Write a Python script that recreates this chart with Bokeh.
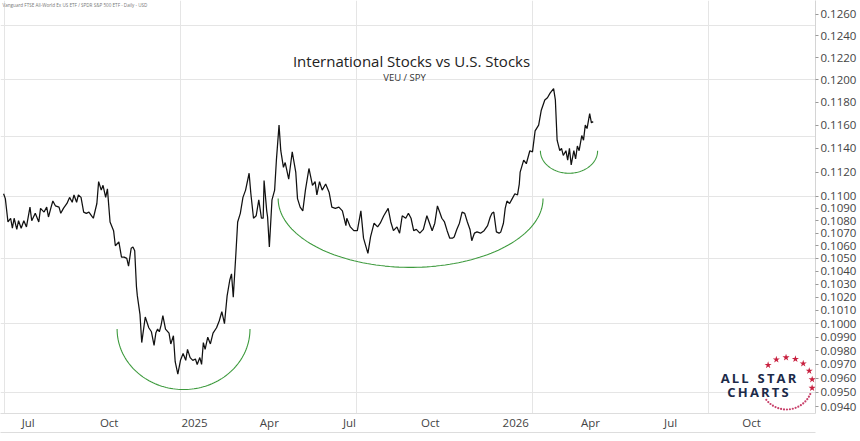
import numpy as np
import pandas as pd
from bokeh.plotting import figure
from bokeh.models import Range1d, LinearAxis, LogAxis, FixedTicker, PrintfTickFormatter, Label
from bokeh.embed import file_html
from bokeh.resources import INLINE

# ---------------- data ----------------
base_date = pd.Timestamp("2025-01-01")

# trading observations, days since 2025-01-01
days = [
    -201, -199, -196, -193, -191, -189, -186, -184, -181, -178,
    -175, -171, -169, -165, -161, -159, -155, -152, -150, -147,
    -145, -142, -138, -136, -133, -129, -126, -123, -121, -118,
    -116, -113, -110, -107, -104, -101, -99, -95, -93, -90,
    -88, -85, -83, -80, -76, -74, -70, -67, -64, -61,
    -59, -56, -54, -52, -50, -49, -46, -44, -40, -36,
    -33, -30, -28, -26, -24, -22, -20, -17, -13, -11,
    -8, -6, -3, 0, 3, 6, 8, 11, 14, 17,
    19, 22, 24, 26, 28, 31, 34, 37, 41, 44,
    47, 50, 53, 56, 58, 60, 63, 65, 68, 71,
    74, 78, 80, 83, 86, 89, 92, 94, 95, 98,
    99, 101, 104, 107, 109, 112, 114, 117, 119, 123,
    127, 131, 133, 136, 139, 142, 146, 150, 153, 155,
    158, 161, 165, 169, 172, 176, 180, 184, 188, 189,
    193, 197, 201, 205, 208, 213, 216, 220, 224, 227,
    231, 236, 239, 242, 246, 249, 252, 256, 259, 262,
    265, 268, 272, 276, 280, 283, 286, 289, 292, 295,
    297, 300, 303, 306, 309, 311, 314, 317, 320, 323,
    326, 329, 331, 334, 337, 341, 345, 349, 352, 354,
    356, 359, 362, 364, 367, 369, 371, 374, 377, 380,
    383, 385, 386, 390, 393, 397, 400, 403, 407, 410,
    414, 417, 420, 424, 426, 428, 431, 433, 435, 438,
    440, 442, 444, 447, 449, 451, 453, 456, 458, 460,
    462, 465, 467, 469,
]

# VEU / SPY ratio
ratio = [
    0.1102, 0.1098, 0.1079, 0.1082, 0.1074, 0.1082, 0.1073, 0.1080, 0.1074, 0.1080,
    0.1075, 0.1091, 0.1080, 0.1086, 0.1079, 0.1090, 0.1087, 0.1091, 0.1083, 0.1091,
    0.1096, 0.1092, 0.1091, 0.1086, 0.1090, 0.1094, 0.1099, 0.1095, 0.1101, 0.1095,
    0.1101, 0.1099, 0.1087, 0.1086, 0.1087, 0.1084, 0.1082, 0.1094, 0.1112, 0.1105,
    0.1109, 0.1099, 0.1106, 0.1079, 0.1072, 0.1060, 0.1063, 0.1051, 0.1051, 0.1050,
    0.1044, 0.1058, 0.1059, 0.1056, 0.1028, 0.1021, 0.1007, 0.0986, 0.1005, 0.0997,
    0.0994, 0.0984, 0.0993, 0.0996, 0.0994, 0.0999, 0.1006, 0.0996, 0.0993, 0.0985,
    0.0991, 0.0972, 0.0963, 0.0973, 0.0978, 0.0973, 0.0981, 0.0975, 0.0973, 0.0974,
    0.0970, 0.0975, 0.0970, 0.0986, 0.0981, 0.0990, 0.0985, 0.0993, 0.0997, 0.1002,
    0.1009, 0.1000, 0.1021, 0.1033, 0.1038, 0.1020, 0.1054, 0.1079, 0.1086, 0.1099,
    0.1105, 0.1119, 0.1102, 0.1082, 0.1084, 0.1097, 0.1082, 0.1082, 0.1113, 0.1088,
    0.1083, 0.1059, 0.1097, 0.1105, 0.1130, 0.1160, 0.1138, 0.1124, 0.1128, 0.1114,
    0.1137, 0.1120, 0.1098, 0.1091, 0.1088, 0.1105, 0.1123, 0.1109, 0.1112, 0.1101,
    0.1112, 0.1105, 0.1110, 0.1103, 0.1091, 0.1090, 0.1091, 0.1088, 0.1076, 0.1082,
    0.1075, 0.1072, 0.1072, 0.1088, 0.1066, 0.1054, 0.1067, 0.1078, 0.1075, 0.1078,
    0.1084, 0.1090, 0.1079, 0.1072, 0.1075, 0.1070, 0.1084, 0.1082, 0.1086, 0.1082,
    0.1072, 0.1073, 0.1070, 0.1073, 0.1084, 0.1078, 0.1072, 0.1078, 0.1092, 0.1086,
    0.1082, 0.1079, 0.1072, 0.1066, 0.1066, 0.1067, 0.1073, 0.1078, 0.1087, 0.1086,
    0.1079, 0.1073, 0.1064, 0.1070, 0.1071, 0.1070, 0.1072, 0.1076, 0.1083, 0.1086,
    0.1087, 0.1071, 0.1070, 0.1071, 0.1078, 0.1090, 0.1096, 0.1094, 0.1098, 0.1102,
    0.1101, 0.1110, 0.1120, 0.1130, 0.1127, 0.1138, 0.1137, 0.1155, 0.1160, 0.1173,
    0.1182, 0.1184, 0.1188, 0.1192, 0.1182, 0.1147, 0.1138, 0.1140, 0.1134, 0.1138,
    0.1130, 0.1140, 0.1126, 0.1138, 0.1131, 0.1142, 0.1138, 0.1151, 0.1147, 0.1160,
    0.1157, 0.1170, 0.1162, 0.1163,
]

y_ticks = [0.094, 0.095, 0.096, 0.097, 0.098, 0.099, 0.100, 0.101, 0.102, 0.103,
           0.104, 0.105, 0.106, 0.107, 0.108, 0.109, 0.110, 0.112, 0.114, 0.116,
           0.118, 0.120, 0.122, 0.124, 0.126]

x_tick_months = ["2024-07-01", "2024-10-01", "2025-01-01", "2025-04-01", "2025-07-01",
                 "2025-10-01", "2026-01-01", "2026-04-01", "2026-07-01", "2026-10-01"]
x_tick_labels = ["Jul", "Oct", "2025", "Apr", "Jul", "Oct", "2026", "Apr", "Jul", "Oct"]

# annotation arcs (green "bowls")
arc_start = ["2024-10-21", "2025-04-22", "2026-02-14"]
arc_end = ["2025-03-21", "2026-02-17", "2026-04-20"]
arc_rim = [0.0996, 0.1098, 0.1138]
arc_bottom = [0.0952, 0.1043, 0.1119]

title_text = "International Stocks vs U.S. Stocks"
subtitle_text = "VEU / SPY"
header_text = "Vanguard FTSE All-World Ex US ETF / SPDR S&P 500 ETF - Daily - USD"
date_text = "10th Apr 2026"

# ---------------- layout ----------------
FRAME_W, FRAME_H = 815, 413
X0, X1 = -204.5, 721.6
Y0, Y1 = 0.09351, 0.12732


def px_x(px):
    return X0 + px * (X1 - X0) / FRAME_W


def px_y(py):
    return 10 ** (np.log10(Y1) - py / FRAME_H * (np.log10(Y1) - np.log10(Y0)))


p = figure(width=860, height=441, output_backend="svg", toolbar_location=None,
           x_range=Range1d(X0, X1), y_range=Range1d(Y0, Y1), y_axis_type="log",
           x_axis_location=None, y_axis_location=None,
           min_border_left=0, min_border_right=45, min_border_top=0, min_border_bottom=28)
p.outline_line_color = None
p.background_fill_color = "white"
p.border_fill_color = "white"

FONT = "Open Sans"

yaxis = LogAxis(ticker=FixedTicker(ticks=y_ticks), formatter=PrintfTickFormatter(format="%.4f"),
                axis_line_color="#d4d4d4", major_tick_line_color="#999999",
                major_tick_out=3, major_tick_in=0, minor_tick_line_color=None,
                major_label_text_font=FONT, major_label_text_font_size="11.5px",
                major_label_text_color="#444444", major_label_standoff=2)
p.add_layout(yaxis, "right")

tick_pos = []
for m, lab in zip(x_tick_months, x_tick_labels):
    off = 16 if lab.isdigit() else 11
    tick_pos.append(float((pd.Timestamp(m) - base_date).days + off))
overrides = {t: lab for t, lab in zip(tick_pos, x_tick_labels)}

xaxis = LinearAxis(ticker=FixedTicker(ticks=tick_pos), major_label_overrides=overrides,
                   axis_line_color="#dddddd", major_tick_line_color=None, minor_tick_line_color=None,
                   major_tick_out=0, major_tick_in=0,
                   major_label_text_font=FONT, major_label_text_font_size="11.5px",
                   major_label_text_color="#444444", major_label_standoff=1)
p.add_layout(xaxis, "below")
xaxis2 = LinearAxis(ticker=FixedTicker(ticks=[]), axis_line_color="#dddddd",
                    major_tick_line_color=None, minor_tick_line_color=None,
                    major_tick_out=0, major_tick_in=0,
                    major_label_text_font_size="0px")
p.add_layout(xaxis2, "below")

# main series
p.line(x=days, y=ratio, line_color="#111111", line_width=1.25)

# arcs
t = np.linspace(0, np.pi, 90)
for s, e, rim, bot in zip(arc_start, arc_end, arc_rim, arc_bottom):
    d0 = (pd.Timestamp(s) - base_date).days
    d1 = (pd.Timestamp(e) - base_date).days
    cx, a = (d0 + d1) / 2, (d1 - d0) / 2
    b = np.log10(rim) - np.log10(bot)
    xs = cx - a * np.cos(t)
    ys = 10 ** (np.log10(rim) - b * np.sin(t))
    p.line(x=xs, y=ys, line_color="#3d9a3d", line_width=1.1)

# texts
p.add_layout(Label(x=px_x(411), y=px_y(60), text=title_text, text_font=FONT,
                   text_font_size="15px", text_color="#222222", text_align="center",
                   text_baseline="middle"))
p.add_layout(Label(x=px_x(404), y=px_y(77), text=subtitle_text, text_font=FONT,
                   text_font_size="9.5px", text_color="#333333", text_align="center",
                   text_baseline="middle"))
p.add_layout(Label(x=px_x(2), y=px_y(4.5), text=header_text, text_font=FONT,
                   text_font_size="4.6px", text_color="#777777", text_align="left",
                   text_baseline="middle"))
p.add_layout(Label(x=px_x(428), y=px_y(434), text=date_text, text_font=FONT,
                   text_font_size="4.5px", text_color="#888888", text_align="center",
                   text_baseline="middle"))
p.add_layout(Label(x=px_x(840), y=px_y(4), text="Optuma", text_font=FONT,
                   text_font_size="6.5px", text_font_style="bold", text_color="#2a62ad",
                   text_align="center", text_baseline="middle"))

# All Star Charts logo
ts = "\u2009"
p.add_layout(Label(x=px_x(758), y=px_y(377), text=ts.join("ALL") + "\u00a0\u2009\u00a0" + ts.join("STAR"),
                   text_font=FONT, text_font_size="13px", text_font_style="bold",
                   text_color="#1c2a49", text_align="center", text_baseline="middle"))
p.add_layout(Label(x=px_x(757.5), y=px_y(391), text=ts.join("CHARTS"),
                   text_font=FONT, text_font_size="13px", text_font_style="bold",
                   text_color="#1c2a49", text_align="center", text_baseline="middle"))
lcx, lcy, lr = 786, 383, 26
star_ang = np.radians([135, 113, 91, 70, 50, 29, 9, -10])
p.scatter(x=[px_x(lcx + lr * np.cos(a_)) for a_ in star_ang],
          y=[px_y(lcy - lr * np.sin(a_)) for a_ in star_ang],
          marker="star", size=7.5, fill_color="#c8203f", line_color=None)
dot_ang = np.radians(np.arange(-24, -146, -6.5))
p.scatter(x=[px_x(lcx + lr * np.cos(a_)) for a_ in dot_ang],
          y=[px_y(lcy - lr * np.sin(a_)) for a_ in dot_ang],
          marker="circle", size=2.2, fill_color="#c8406a", line_color=None)

open("out.html", "w").write(file_html(p, INLINE))
